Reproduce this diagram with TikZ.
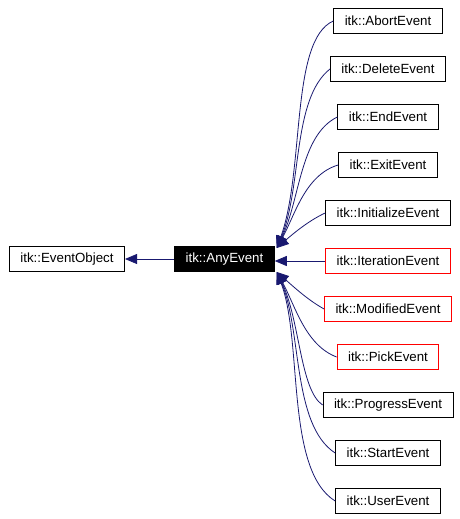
\documentclass[tikz,border=0pt]{standalone}
\usepackage{fontspec}
\setmainfont{Liberation Sans}
\usetikzlibrary{arrows.meta}
\definecolor{edgeblue}{HTML}{191970}
\begin{document}
\begin{tikzpicture}[x=1pt, y=1pt,
  box/.style = {shape=rectangle, draw=black, line width=0.9pt,
    minimum height=25pt, inner xsep=11pt, inner ysep=0pt,
    font=\fontsize{13.3}{16}\selectfont},
  redbox/.style = {box, draw=red},
  focus/.style = {box, fill=black, text=white},
  inh/.style = {draw=edgeblue, line width=0.8pt,
    {Triangle[length=12pt, width=10pt]}-}]
  \useasboundingbox (0,0) rectangle (460,-519);
  % base and selected class
  \node[box] (EventObject) at (67,-259) {itk::EventObject};
  \node[focus] (AnyEvent) at (224.5,-259) {itk::AnyEvent};
  % derived classes
  \node[box] (Abort) at (388,-21) {itk::AbortEvent};
  \node[box] (Delete) at (388,-69) {itk::DeleteEvent};
  \node[box] (End) at (388,-117) {itk::EndEvent};
  \node[box] (Exit) at (388,-165) {itk::ExitEvent};
  \node[box] (Initialize) at (388,-213) {itk::InitializeEvent};
  \node[redbox] (Iteration) at (388,-261) {itk::IterationEvent};
  \node[redbox] (Modified) at (388,-309) {itk::ModifiedEvent};
  \node[redbox] (Pick) at (388,-357) {itk::PickEvent};
  \node[box] (Progress) at (388,-405) {itk::ProgressEvent};
  \node[box] (Start) at (388,-453) {itk::StartEvent};
  \node[box] (User) at (388,-501) {itk::UserEvent};
  % arrow ends on AnyEvent
  \coordinate (up) at ([shift={(2,11)}]AnyEvent.east);
  \coordinate (mid) at (AnyEvent.east |- Iteration.west);
  \coordinate (dn) at ([shift={(2,-13)}]AnyEvent.east);
  \draw[inh] (EventObject.east) -- (AnyEvent.west);
  \draw[inh] (up) .. controls (305,-170) and (290,-40) .. (Abort.west);
  \draw[inh] (up) .. controls (302,-188) and (292,-99) .. (Delete.west);
  \draw[inh] (up) .. controls (300,-200) and (300,-135) .. (End.west);
  \draw[inh] (up) .. controls (295,-215) and (305,-175) .. (Exit.west);
  \draw[inh] (up) .. controls (295,-232) and (310,-220) .. (Initialize.west);
  \draw[inh] (mid) -- (Iteration.west);
  \draw[inh] (dn) .. controls (295,-288) and (308,-300) .. (Modified.west);
  \draw[inh] (dn) .. controls (295,-305) and (305,-345) .. (Pick.west);
  \draw[inh] (dn) .. controls (300,-320) and (300,-390) .. (Progress.west);
  \draw[inh] (dn) .. controls (302,-330) and (292,-425) .. (Start.west);
  \draw[inh] (dn) .. controls (303,-340) and (285,-470) .. (User.west);
\end{tikzpicture}
\end{document}
